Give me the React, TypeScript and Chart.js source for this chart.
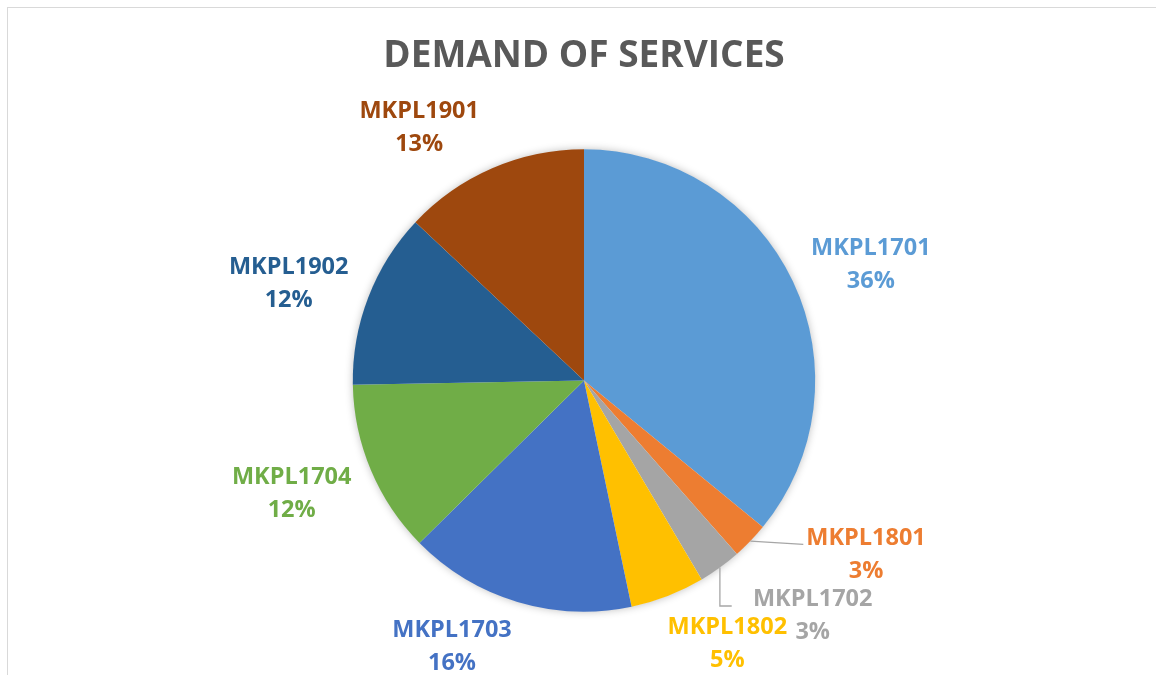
import React, { useEffect, useRef } from "react";
import { Chart, registerables } from "chart.js";

Chart.register(...registerables);

// ---- data ----
const TITLE = "DEMAND OF SERVICES";
const CATEGORIES = [
  "MKPL1701",
  "MKPL1801",
  "MKPL1702",
  "MKPL1802",
  "MKPL1703",
  "MKPL1704",
  "MKPL1902",
  "MKPL1901",
];
const SHARES = [35.93, 2.57, 3.0, 5.2, 15.9, 12.1, 12.3, 13.0];
const COLORS = [
  "#5B9BD5",
  "#ED7D31",
  "#A5A5A5",
  "#FFC000",
  "#4472C4",
  "#70AD47",
  "#255E91",
  "#9E480E",
];

// ---- label layout (relative to pie centre, in units of pie radius) ----
const LABEL_POS: [number, number][] = [
  [1.2405, -0.5095],
  [1.2197, 0.7474],
  [0.9892, 1.0091],
  [0.6198, 1.1332],
  [-0.5709, 1.1445],
  [-1.2643, 0.4818],
  [-1.2773, -0.4269],
  [-0.7128, -1.1016],
];
type Leader = { kind: "straight" | "elbow"; dx: number; dy: number } | null;
const LEADERS: Leader[] = [
  null,
  { kind: "straight", dx: -62.7, dy: -9 },
  { kind: "elbow", dx: -81, dy: -7.8 },
  null,
  null,
  null,
  null,
  null,
];

const FONT = "'Open Sans', 'DejaVu Sans', sans-serif";
const LABEL_SIZE = 23.5;
const LINE_GAP = 33;

const shadowPlugin = {
  id: "pieShadow",
  beforeDatasetsDraw(chart: any) {
    const meta = chart.getDatasetMeta(0);
    const arc = meta.data[0];
    if (!arc) return;
    const { x, y, outerRadius } = arc.getProps(["x", "y", "outerRadius"], true);
    const ctx = chart.ctx;
    ctx.save();
    ctx.shadowColor = "rgba(0,0,0,0.28)";
    ctx.shadowBlur = 9;
    ctx.fillStyle = "#ffffff";
    ctx.beginPath();
    ctx.arc(x, y, outerRadius - 0.5, 0, Math.PI * 2);
    ctx.fill();
    ctx.restore();
  },
};

const labelPlugin = {
  id: "pieLabels",
  afterDatasetsDraw(chart: any) {
    const ctx = chart.ctx;
    const meta = chart.getDatasetMeta(0);
    const data = chart.data.datasets[0].data as number[];
    const total = data.reduce((a, b) => a + b, 0);
    const cap = 0.714 * LABEL_SIZE;
    meta.data.forEach((arc: any, i: number) => {
      const { x, y, startAngle, endAngle, outerRadius } = arc.getProps(
        ["x", "y", "startAngle", "endAngle", "outerRadius"],
        true
      );
      const [fx, fy] = LABEL_POS[i];
      const lx = x + fx * outerRadius;
      const ly = y + fy * outerRadius;
      const leader = LEADERS[i];
      ctx.save();
      if (leader) {
        const mid = (startAngle + endAngle) / 2;
        const sx = x + Math.cos(mid) * outerRadius;
        const sy = y + Math.sin(mid) * outerRadius;
        const ex = lx + leader.dx;
        const ey = ly + leader.dy;
        ctx.beginPath();
        ctx.moveTo(sx, sy);
        if (leader.kind === "elbow") ctx.lineTo(sx, ey);
        ctx.lineTo(ex, ey);
        ctx.strokeStyle = "#A6A6A6";
        ctx.lineWidth = 1.3;
        ctx.stroke();
      }
      const pct = Math.round((data[i] / total) * 100);
      ctx.font = `bold ${LABEL_SIZE}px ${FONT}`;
      ctx.fillStyle = COLORS[i];
      ctx.textAlign = "center";
      ctx.textBaseline = "alphabetic";
      ctx.fillText(CATEGORIES[i], lx, ly - LINE_GAP / 2 + cap / 2);
      ctx.fillText(`${pct}%`, lx, ly + LINE_GAP / 2 + cap / 2);
      ctx.restore();
    });
  },
};

export default function App() {
  const canvasRef = useRef<HTMLCanvasElement | null>(null);

  useEffect(() => {
    if (!canvasRef.current) return;
    const chart = new Chart(canvasRef.current, {
      type: "pie",
      data: {
        labels: CATEGORIES,
        datasets: [
          {
            data: SHARES,
            backgroundColor: COLORS,
            borderWidth: 0,
            hoverOffset: 0,
            offset: 0,
          },
        ],
      },
      options: {
        animation: false,
        responsive: true,
        maintainAspectRatio: false,
        layout: {
          padding: { top: 0, left: 352.8, right: 340.8, bottom: 63.3 },
        },
        plugins: {
          legend: { display: false },
          tooltip: { enabled: false },
          title: {
            display: true,
            text: TITLE,
            color: "#595959",
            font: { family: FONT, size: 37, weight: "bold", lineHeight: 1.2 },
            padding: { top: 33.8, bottom: 71.1 },
          },
        },
      },
      plugins: [shadowPlugin, labelPlugin],
    });
    return () => chart.destroy();
  }, []);

  return (
    <>
      <div
        style={{
          position: "fixed",
          left: 7,
          top: 7,
          width: 1400,
          height: 900,
          borderTop: "1px solid #D9D9D9",
          borderLeft: "1px solid #D9D9D9",
          pointerEvents: "none",
        }}
      />
      <div
        style={{
          position: "fixed",
          left: 0,
          top: 0,
          width: 1156,
          height: 675,
        }}
      >
        <canvas ref={canvasRef} />
      </div>
    </>
  );
}
